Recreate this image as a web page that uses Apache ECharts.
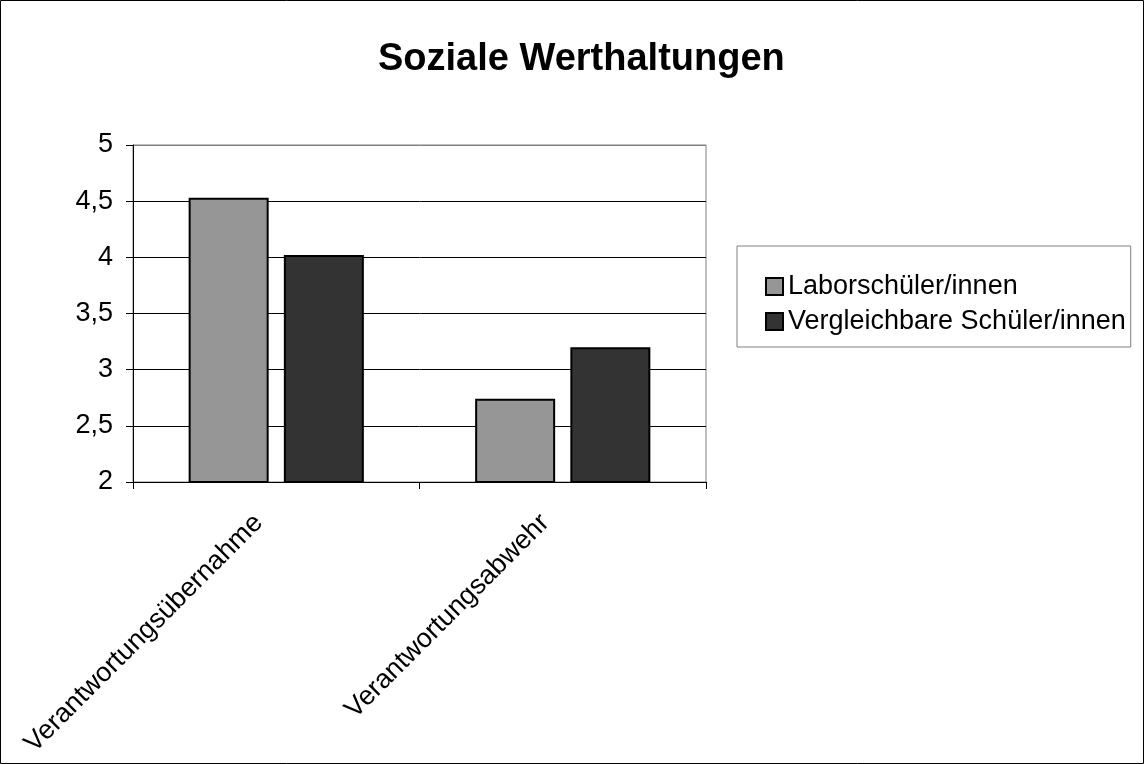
<!DOCTYPE html>
<html>
<head>
<meta charset="utf-8">
<script src="https://cdn.jsdelivr.net/npm/echarts@6/dist/echarts.min.js"></script>
<style>
html,body{margin:0;padding:0;background:#fff;}
#chart{width:1144px;height:764px;}
</style>
</head>
<body>
<div id="chart"></div>
<script>
const titleText = 'Soziale Werthaltungen';
const categories = ['Verantwortungsübernahme', 'Verantwortungsabwehr'];
const seriesNames = ['Laborschüler/innen', 'Vergleichbare Schüler/innen'];
const laborValues = [4.53, 2.74];
const vergleichValues = [4.02, 3.2];
const yMin = 2, yMax = 5, yStep = 0.5;

const FONT = '"Liberation Sans", Arial, sans-serif';
const chart = echarts.init(document.getElementById('chart'));
chart.setOption({
  backgroundColor: '#fff',
  animation: false,
  title: {
    text: titleText,
    left: 373,
    top: 36,
    textStyle: { fontFamily: FONT, fontSize: 38, fontWeight: 'bold', color: '#000' }
  },
  graphic: [{
    type: 'rect',
    shape: { x: 0.5, y: 0.5, width: 1143, height: 763 },
    style: { fill: 'none', stroke: '#000', lineWidth: 1 },
    z: -1
  }],
  legend: {
    orient: 'vertical',
    left: 737,
    top: 246,
    padding: [27, 5, 12, 28],
    itemGap: 8,
    itemWidth: 17,
    itemHeight: 17,
    icon: 'rect',
    borderColor: '#808080',
    borderWidth: 1,
    textStyle: { fontFamily: FONT, fontSize: 27, color: '#000', padding: [0, 0, 0, 0] },
    itemStyle: { borderColor: '#000', borderWidth: 2 },
    data: seriesNames
  },
  grid: {
    left: 133, right: 438, top: 145, bottom: 282,
    show: true, borderColor: '#808080', borderWidth: 1, backgroundColor: 'transparent'
  },
  xAxis: {
    type: 'category',
    data: categories,
    boundaryGap: true,
    axisLine: { lineStyle: { color: '#000', width: 1 } },
    axisTick: { show: true, alignWithLabel: false, length: 7, lineStyle: { color: '#000' } },
    axisLabel: { rotate: 45, margin: 19, padding: [0, 25, 0, 0], interval: 0, fontFamily: FONT, fontSize: 27, color: '#000' },
    splitLine: { show: false }
  },
  yAxis: {
    type: 'value',
    min: yMin, max: yMax, interval: yStep,
    axisLine: { show: true, lineStyle: { color: '#000', width: 1 } },
    axisTick: { show: true, length: 7, lineStyle: { color: '#000' } },
    axisLabel: {
      margin: 20, fontFamily: FONT, fontSize: 27, color: '#000',
      formatter: v => String(v).replace('.', ',')
    },
    splitLine: { show: true, lineStyle: { color: ['#000','#000','#000','#000','#000','#000','#808080'], width: 1 } }
  },
  series: [
    {
      name: seriesNames[0], type: 'bar', data: laborValues,
      barWidth: 80, barGap: '19%',
      itemStyle: { color: '#969696', borderColor: '#000', borderWidth: 2 }
    },
    {
      name: seriesNames[1], type: 'bar', data: vergleichValues,
      barWidth: 80,
      itemStyle: { color: '#333333', borderColor: '#000', borderWidth: 2 }
    }
  ]
});
</script>
</body>
</html>
